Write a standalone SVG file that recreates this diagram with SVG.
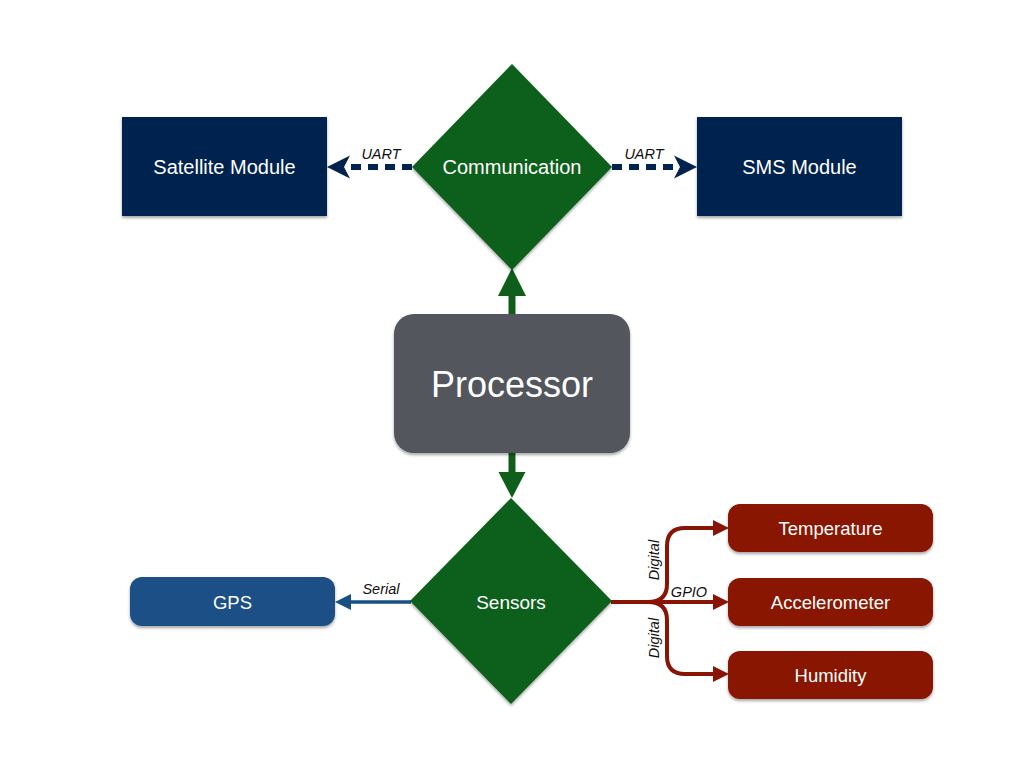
<svg xmlns="http://www.w3.org/2000/svg" width="1024" height="768" viewBox="0 0 1024 768">
<defs>
<filter id="sh" x="-10%" y="-10%" width="120%" height="130%">
<feDropShadow dx="0" dy="2" stdDeviation="1.5" flood-color="#000" flood-opacity="0.35"/>
</filter>
<style>
.lbl{font-family:"Liberation Sans",Arial,sans-serif;fill:#fff;text-anchor:middle;dominant-baseline:central}
.el{font-family:"Liberation Sans",Arial,sans-serif;font-style:italic;font-size:14.5px;fill:#111;text-anchor:middle}
.navy{fill:#012350}
.green{fill:#0f5e1b}
.red{fill:#891406}
.blue{fill:#1a4f86}
</style>
</defs>
<rect width="1024" height="768" fill="#fff"/>
<g id="connectors">
<line x1="412" y1="167" x2="350" y2="167" stroke="#012350" stroke-width="6" stroke-dasharray="10,7"/>
<path d="M327,167 L350,155.5 L344,167 L350,178.5 Z" class="navy"/>
<text class="el" x="381" y="159">UART</text>
<line x1="612" y1="167" x2="674" y2="167" stroke="#012350" stroke-width="6" stroke-dasharray="10,7"/>
<path d="M697,167 L674,155.5 L680,167 L674,178.5 Z" class="navy"/>
<text class="el" x="644" y="159">UART</text>
<line x1="512" y1="314" x2="512" y2="294" stroke="#0f5e1b" stroke-width="7"/>
<path d="M512,268 L526,296 L498,296 Z" class="green"/>
<line x1="512" y1="453" x2="512" y2="474" stroke="#0f5e1b" stroke-width="7"/>
<path d="M512,498 L525.5,472 L498.5,472 Z" class="green"/>
<line x1="411" y1="602" x2="349" y2="602" stroke="#1a4f86" stroke-width="3.5"/>
<path d="M335,602 L351,594 L351,610 Z" class="blue"/>
<text class="el" x="381" y="594">Serial</text>
<g fill="none" stroke="#891406" stroke-width="4">
<path d="M611,602 L715,602"/>
<path d="M648,602 Q667,602 667,584 L667,546 Q667,528 685,528 L715,528"/>
<path d="M648,602 Q667,602 667,620 L667,656 Q667,674 685,674 L715,674"/>
</g>
<path d="M729,528 L713,520 L713,536 Z" class="red"/>
<path d="M729,602 L713,594 L713,610 Z" class="red"/>
<path d="M729,674 L713,666 L713,682 Z" class="red"/>
<text class="el" x="0" y="0" transform="translate(658.5,560) rotate(-90)">Digital</text>
<text class="el" x="0" y="0" transform="translate(658.5,638) rotate(-90)">Digital</text>
<text class="el" x="689" y="597">GPIO</text>
</g>
<g id="satellite">
<rect x="122" y="117" width="205" height="99" class="navy" filter="url(#sh)"/>
<text class="lbl" x="224.5" y="167" font-size="20">Satellite Module</text>
</g>
<g id="sms">
<rect x="697" y="117" width="205" height="99" class="navy" filter="url(#sh)"/>
<text class="lbl" x="799.5" y="167" font-size="20">SMS Module</text>
</g>
<g id="communication">
<path d="M512,64 L612,167 L512,270 L412,167 Z" class="green" filter="url(#sh)"/>
<text class="lbl" x="512" y="167" font-size="20">Communication</text>
</g>
<g id="processor">
<rect x="394" y="314" width="236" height="139" rx="20" fill="#53565d" filter="url(#sh)"/>
<text class="lbl" x="512" y="384" font-size="36">Processor</text>
</g>
<g id="sensors">
<path d="M511,498 L612,601 L511,704 L410,601 Z" class="green" filter="url(#sh)"/>
<text class="lbl" x="511" y="602" font-size="19">Sensors</text>
</g>
<g id="gps">
<rect x="130" y="577" width="205" height="49" rx="12" class="blue" filter="url(#sh)"/>
<text class="lbl" x="232.5" y="602" font-size="18.5">GPS</text>
</g>
<g id="temperature">
<rect x="728" y="504" width="205" height="48" rx="12" class="red" filter="url(#sh)"/>
<text class="lbl" x="830.5" y="528" font-size="18.5">Temperature</text>
</g>
<g id="accelerometer">
<rect x="728" y="578" width="205" height="48" rx="12" class="red" filter="url(#sh)"/>
<text class="lbl" x="830.5" y="602" font-size="18.5">Accelerometer</text>
</g>
<g id="humidity">
<rect x="728" y="651" width="205" height="48" rx="12" class="red" filter="url(#sh)"/>
<text class="lbl" x="830.5" y="675" font-size="18.5">Humidity</text>
</g>
</svg>
